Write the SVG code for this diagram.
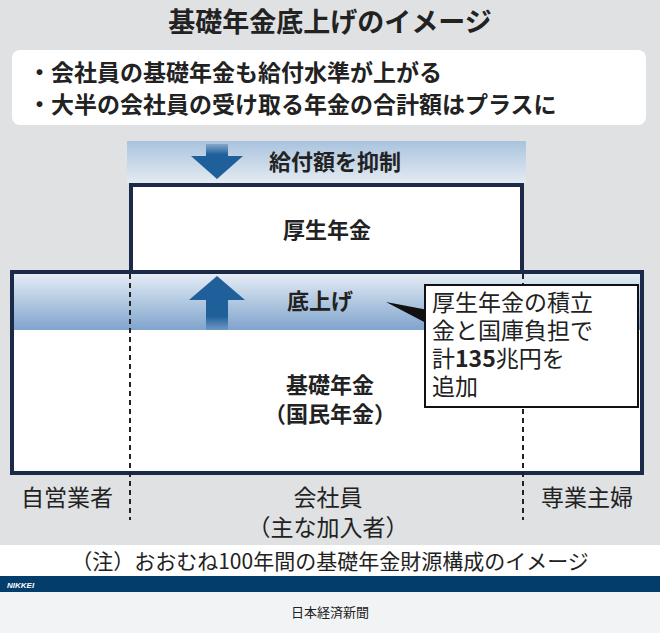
<svg xmlns="http://www.w3.org/2000/svg" width="660" height="633" viewBox="0 0 660 633">
<defs>
<linearGradient id="g1" x1="0" y1="0" x2="0" y2="1"><stop offset="0" stop-color="#a9c3de"/><stop offset="1" stop-color="#e4ebf2"/></linearGradient>
<linearGradient id="g2" x1="0" y1="0" x2="0" y2="1"><stop offset="0" stop-color="#e4ecf5"/><stop offset="1" stop-color="#7fa4cc"/></linearGradient>
<linearGradient id="ga" x1="0" y1="0" x2="0" y2="1"><stop offset="0" stop-color="#1f5f9a"/><stop offset="0.75" stop-color="#1f5f9a"/><stop offset="1" stop-color="#1f5f9a" stop-opacity="0.2"/></linearGradient>
<linearGradient id="gb" x1="0" y1="0" x2="0" y2="1"><stop offset="0" stop-color="#1f5f9a" stop-opacity="0.3"/><stop offset="0.3" stop-color="#1f5f9a"/><stop offset="1" stop-color="#1f5f9a"/></linearGradient>
</defs>
<style>
text{font-family:"Noto Sans CJK JP","Noto Sans",sans-serif;fill:#222}
.b{font-weight:bold}
.c{text-anchor:middle}
.box{stroke:#1c2a4a;stroke-width:4}
.dash{stroke:#222;stroke-width:2;stroke-dasharray:5,4;fill:none}
</style>
<rect width="660" height="545" fill="#dfe1e3"/>
<rect y="545" width="660" height="31" fill="#fff"/>
<rect y="576" width="660" height="16" fill="#033d6b"/>
<rect y="592" width="660" height="41" fill="#f2f3f5"/>
<text x="7" y="588" font-size="8" font-style="italic" font-weight="bold" style="fill:#fff;font-family:'Liberation Sans',sans-serif">NIKKEI</text>
<text x="330" y="617" font-size="13" class="c">日本経済新聞</text>

<g id="title">
<text x="330" y="32" font-size="27" class="b c">基礎年金底上げのイメージ</text>
<rect x="12" y="50" width="634" height="75" rx="8" fill="#fff"/>
<text x="28" y="81" font-size="23" class="b">・会社員の基礎年金も給付水準が上がる</text>
<text x="28" y="113" font-size="23" class="b">・大半の会社員の受け取る年金の合計額はプラスに</text>
</g>

<g id="top-band">
<rect x="127" y="141" width="399" height="42" fill="url(#g1)"/>
<path d="M206 144h22v12h15l-26 23l-26-23h15z" fill="url(#gb)"/>
<text x="335" y="170" font-size="22" class="b c">給付額を抑制</text>
</g>

<g id="kosei">
<rect x="131" y="185" width="391" height="87" fill="#fff" class="box"/>
<text x="327" y="238" font-size="22" class="b c">厚生年金</text>
</g>

<g id="kiso">
<rect x="12" y="272" width="630" height="201" fill="#fff" class="box"/>
<rect x="14" y="274" width="626" height="56" fill="url(#g2)"/>
<path d="M217 276l-28 24h17v30h22v-30h17z" fill="url(#ga)"/>
<text x="320" y="309" font-size="22" class="b c">底上げ</text>
<text x="330" y="393" font-size="22" class="b c">基礎年金</text>
<text x="330" y="422" font-size="22" class="b c">（国民年金）</text>
</g>

<g id="connectors">
<line x1="130" y1="274" x2="130" y2="520" class="dash"/>
<line x1="523" y1="274" x2="523" y2="520" class="dash"/>
<path d="M386 302l42 8l0 14z" fill="#111"/>
</g>

<g id="callout">
<rect x="425" y="285" width="213" height="122" fill="#fff" stroke="#111" stroke-width="2"/>
<text x="432" y="311" font-size="23">厚生年金の積立</text>
<text x="432" y="339" font-size="23">金と国庫負担で</text>
<text x="432" y="367" font-size="23">計<tspan class="b">135</tspan>兆円を</text>
<text x="432" y="395" font-size="23">追加</text>
</g>

<g id="labels">
<text x="67" y="506" font-size="23" class="c">自営業者</text>
<text x="328" y="506" font-size="23" class="c">会社員</text>
<text x="328" y="536" font-size="23" class="c">（主な加入者）</text>
<text x="587" y="506" font-size="23" class="c">専業主婦</text>
<text x="330" y="569" font-size="21" class="c">（注）おおむね100年間の基礎年金財源構成のイメージ</text>
</g>
</svg>
